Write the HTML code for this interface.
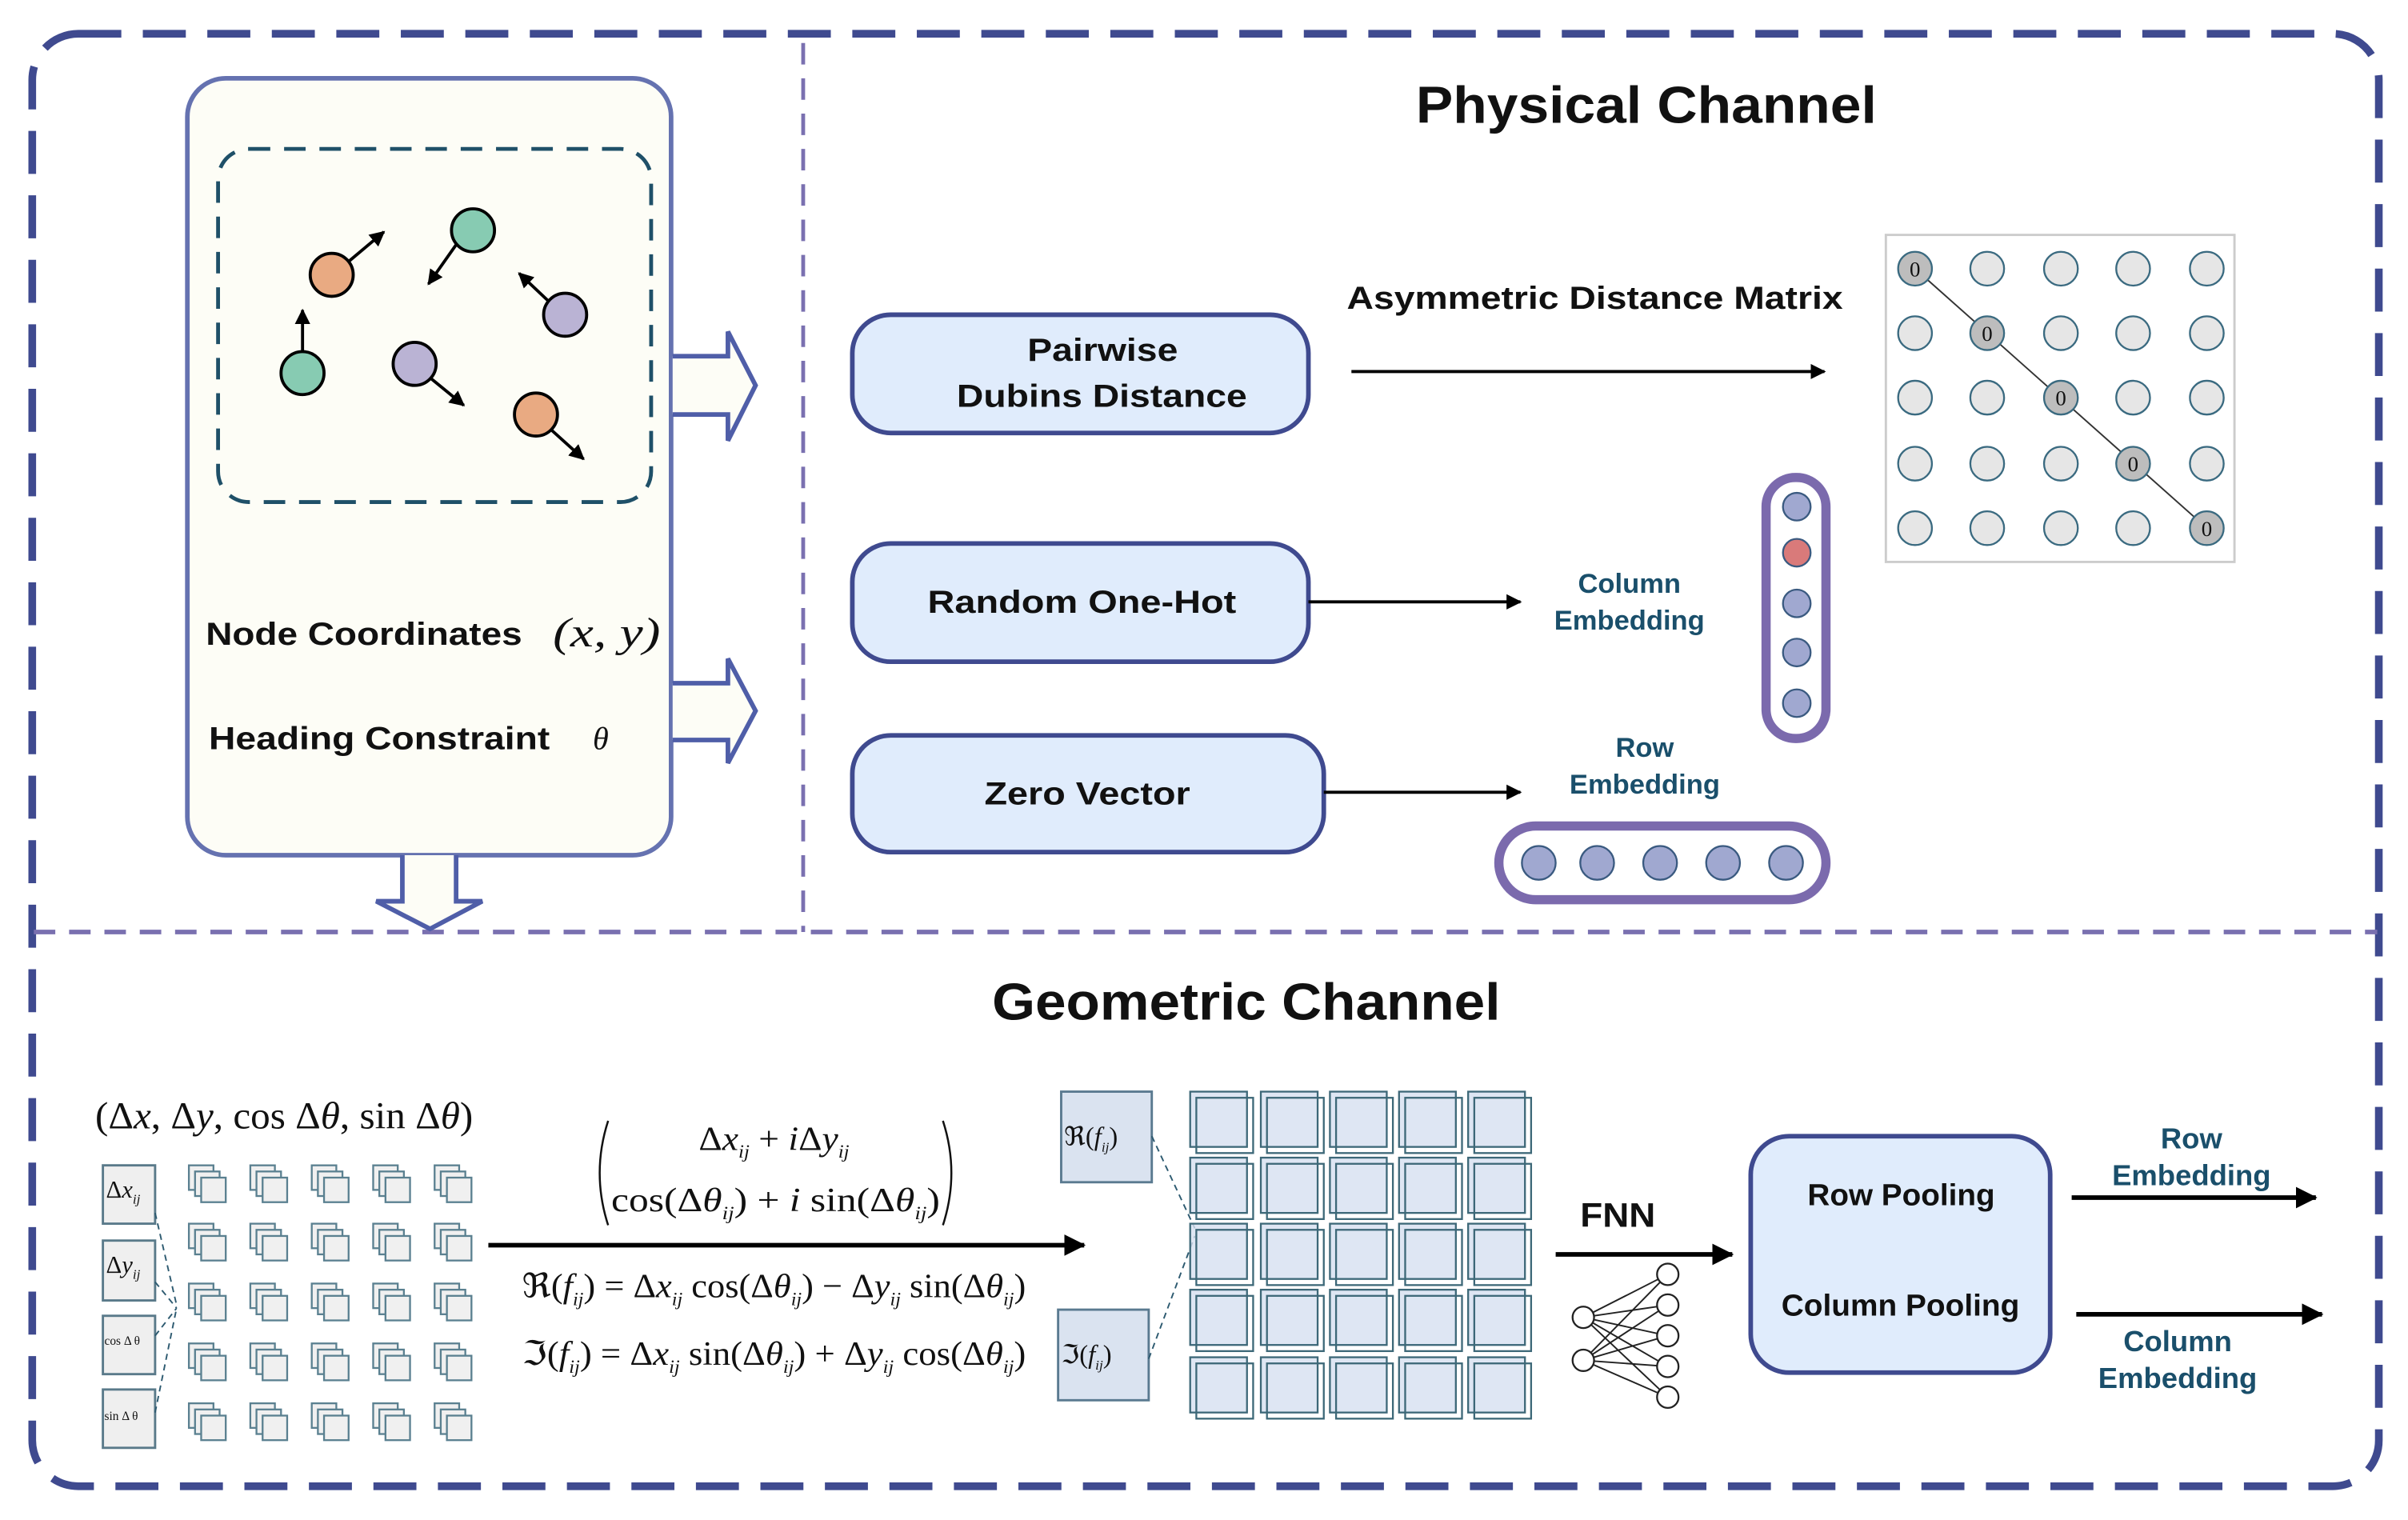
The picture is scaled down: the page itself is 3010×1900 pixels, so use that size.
<!DOCTYPE html>
<html><head><meta charset="utf-8"><style>html,body{margin:0;padding:0;background:#fff}svg{display:block}</style></head><body>
<svg width="3010" height="1900" viewBox="0 0 1568 990" preserveAspectRatio="none" xmlns="http://www.w3.org/2000/svg" font-family="Liberation Sans, sans-serif">
<defs>
<marker id="ah" markerWidth="10" markerHeight="10" refX="9" refY="5" orient="auto" markerUnits="userSpaceOnUse"><path d="M0,0 L10,5 L0,10 z" fill="#000"/></marker>
<marker id="ahs" markerWidth="14" markerHeight="14" refX="13" refY="7" orient="auto" markerUnits="userSpaceOnUse"><path d="M0,0 L14,7 L0,14 z" fill="#000"/></marker>
<g id="stk"><rect x="0" y="0" width="16" height="16"/><rect x="4" y="4" width="16" height="16"/><rect x="8" y="8" width="16" height="16"/></g>
<g id="srow"><use href="#stk" x="0"/><use href="#stk" x="40"/><use href="#stk" x="80"/><use href="#stk" x="120"/><use href="#stk" x="160"/></g>
</defs>
<rect x="0" y="0" width="1568" height="990" fill="#fff"/>
<rect x="21" y="22" width="1528" height="946" rx="30" fill="none" stroke="#3f4a8f" stroke-width="5" stroke-dasharray="28 14"/>
<line x1="523" y1="28" x2="523" y2="607" stroke="#7a70b0" stroke-width="2.5" stroke-dasharray="14 9"/>
<line x1="22" y1="607" x2="1548" y2="607" stroke="#7a70b0" stroke-width="3" stroke-dasharray="14 9"/>

<rect x="122" y="51" width="315" height="506" rx="25" fill="#fdfdf6" stroke="#6572b0" stroke-width="3"/>
<rect x="142" y="97" width="282" height="230" rx="20" fill="none" stroke="#1f5068" stroke-width="2.5" stroke-dasharray="14 9"/>
<g stroke="#000" stroke-width="2">
<line x1="225" y1="172" x2="250" y2="151" marker-end="url(#ah)"/>
<line x1="298" y1="158" x2="279" y2="185" marker-end="url(#ah)"/>
<line x1="357" y1="196" x2="338" y2="178" marker-end="url(#ah)"/>
<line x1="197" y1="230" x2="197" y2="202" marker-end="url(#ah)"/>
<line x1="280" y1="246" x2="302" y2="264" marker-end="url(#ah)"/>
<line x1="359" y1="280" x2="380" y2="299" marker-end="url(#ah)"/>
<circle cx="216" cy="179" r="14" fill="#e9aa82"/>
<circle cx="308" cy="150" r="14" fill="#87cbb2"/>
<circle cx="368" cy="205" r="14" fill="#bab3d4"/>
<circle cx="197" cy="243" r="14" fill="#87cbb2"/>
<circle cx="270" cy="237" r="14" fill="#bab3d4"/>
<circle cx="349" cy="270" r="14" fill="#e9aa82"/>
</g>
<text x="134" y="420" font-size="21" font-weight="bold" fill="#111" textLength="206" lengthAdjust="spacingAndGlyphs">Node Coordinates</text>
<text x="360" y="421" font-size="27" font-family="Liberation Serif, serif" font-style="italic" fill="#111" textLength="70" lengthAdjust="spacingAndGlyphs">(x, y)</text>
<text x="136" y="488" font-size="21" font-weight="bold" fill="#111" textLength="222" lengthAdjust="spacingAndGlyphs">Heading Constraint</text>
<text x="386" y="488" font-size="21" font-family="Liberation Serif, serif" font-style="italic" fill="#111">θ</text>
<path d="M438,232 L474,232 L474,216 L492,251 L474,287 L474,270 L438,270" fill="#fdfdf6" stroke="#4f5ea8" stroke-width="3"/>
<path d="M438,445 L474,445 L474,429 L492,463 L474,497 L474,482 L438,482" fill="#fdfdf6" stroke="#4f5ea8" stroke-width="3"/>
<path d="M262,557 L262,587 L245,587 L280,605 L314,587 L297,587 L297,557" fill="#fdfdf6" stroke="#4f5ea8" stroke-width="3"/>

<text x="922" y="80" font-size="34" font-weight="bold" fill="#111" textLength="300" lengthAdjust="spacingAndGlyphs">Physical Channel</text>
<g fill="#e0ecfc" stroke="#3f4a8f" stroke-width="3">
<rect x="555" y="205" width="297" height="77" rx="25"/>
<rect x="555" y="354" width="297" height="77" rx="25"/>
<rect x="555" y="479" width="307" height="76" rx="25"/>
</g>
<g font-size="21" font-weight="bold" fill="#111" lengthAdjust="spacingAndGlyphs">
<text x="669" y="235" textLength="98" lengthAdjust="spacingAndGlyphs">Pairwise</text>
<text x="623" y="265" textLength="189" lengthAdjust="spacingAndGlyphs">Dubins Distance</text>
<text x="604" y="399" textLength="201" lengthAdjust="spacingAndGlyphs">Random One-Hot</text>
<text x="641" y="524" textLength="134" lengthAdjust="spacingAndGlyphs">Zero Vector</text>
<text x="877" y="201" textLength="323" lengthAdjust="spacingAndGlyphs">Asymmetric Distance Matrix</text>
</g>
<g stroke="#000" stroke-width="2">
<line x1="880" y1="242" x2="1188" y2="242" marker-end="url(#ah)"/>
<line x1="852" y1="392" x2="990" y2="392" marker-end="url(#ah)"/>
<line x1="862" y1="516" x2="990" y2="516" marker-end="url(#ah)"/>
</g>
<g font-size="18" font-weight="bold" text-anchor="middle" fill="#1a4f6b">
<text x="1061" y="386">Column</text><text x="1061" y="410">Embedding</text>
<text x="1071" y="493">Row</text><text x="1071" y="517">Embedding</text>
</g>
<rect x="1150" y="311" width="39" height="170" rx="19" fill="#fff" stroke="#7b6aad" stroke-width="6"/>
<g stroke="#3a5a80" stroke-width="1.2" fill="#a0a8d0">
<circle cx="1170" cy="330" r="9"/><circle cx="1170" cy="360" r="9" fill="#d97a7a"/><circle cx="1170" cy="393" r="9"/><circle cx="1170" cy="425" r="9"/><circle cx="1170" cy="458" r="9"/>
</g>
<rect x="976" y="538" width="213" height="48" rx="24" fill="#fff" stroke="#7b6aad" stroke-width="6"/>
<g stroke="#3a5a80" stroke-width="1.2" fill="#a0a8d0">
<circle cx="1002" cy="562" r="11"/><circle cx="1040" cy="562" r="11"/><circle cx="1081" cy="562" r="11"/><circle cx="1122" cy="562" r="11"/><circle cx="1163" cy="562" r="11"/>
</g>
<rect x="1228" y="153" width="227" height="213" fill="#fff" stroke="#ccc" stroke-width="1.5"/>
<line x1="1247" y1="175" x2="1437" y2="344" stroke="#333" stroke-width="1"/>
<g stroke="#3a6a80" stroke-width="1.2" fill="#e6e6e6">
<circle cx="1247" cy="175" r="11" fill="#bdbdbd"/><circle cx="1294" cy="175" r="11"/><circle cx="1342" cy="175" r="11"/><circle cx="1389" cy="175" r="11"/><circle cx="1437" cy="175" r="11"/>
<circle cx="1247" cy="217" r="11"/><circle cx="1294" cy="217" r="11" fill="#bdbdbd"/><circle cx="1342" cy="217" r="11"/><circle cx="1389" cy="217" r="11"/><circle cx="1437" cy="217" r="11"/>
<circle cx="1247" cy="259" r="11"/><circle cx="1294" cy="259" r="11"/><circle cx="1342" cy="259" r="11" fill="#bdbdbd"/><circle cx="1389" cy="259" r="11"/><circle cx="1437" cy="259" r="11"/>
<circle cx="1247" cy="302" r="11"/><circle cx="1294" cy="302" r="11"/><circle cx="1342" cy="302" r="11"/><circle cx="1389" cy="302" r="11" fill="#bdbdbd"/><circle cx="1437" cy="302" r="11"/>
<circle cx="1247" cy="344" r="11"/><circle cx="1294" cy="344" r="11"/><circle cx="1342" cy="344" r="11"/><circle cx="1389" cy="344" r="11"/><circle cx="1437" cy="344" r="11" fill="#bdbdbd"/>
</g>
<g font-size="14" font-family="Liberation Serif, serif" text-anchor="middle" fill="#111">
<text x="1247" y="180">0</text><text x="1294" y="222">0</text><text x="1342" y="264">0</text><text x="1389" y="307">0</text><text x="1437" y="349">0</text>
</g>

<text x="646" y="664" font-size="34" font-weight="bold" fill="#111" textLength="331" lengthAdjust="spacingAndGlyphs">Geometric Channel</text>
<text x="62" y="735" font-size="25" font-family="Liberation Serif, serif" fill="#111" textLength="246" lengthAdjust="spacingAndGlyphs">(Δ<tspan font-style="italic">x</tspan>, Δ<tspan font-style="italic">y</tspan>, cos Δ<tspan font-style="italic">θ</tspan>, sin Δ<tspan font-style="italic">θ</tspan>)</text>
<g fill="#efefef" stroke="#5a7a8a" stroke-width="1.5">
<rect x="67" y="759" width="34" height="38"/><rect x="67" y="808" width="34" height="39"/><rect x="67" y="857" width="34" height="38"/><rect x="67" y="905" width="34" height="38"/>
</g>
<g font-family="Liberation Serif, serif" fill="#111">
<text x="69" y="780" font-size="16">Δ<tspan font-style="italic">x</tspan><tspan font-size="9" font-style="italic" dy="4">ij</tspan></text>
<text x="69" y="829" font-size="16">Δ<tspan font-style="italic">y</tspan><tspan font-size="9" font-style="italic" dy="4">ij</tspan></text>
<text x="68" y="876" font-size="8">cos Δ θ</text>
<text x="68" y="925" font-size="8">sin Δ θ</text>
</g>
<g stroke="#2d5a70" stroke-width="1" stroke-dasharray="4 3" fill="none">
<path d="M101,790 L115,850"/><path d="M101,835 L115,852"/><path d="M101,870 L115,852"/><path d="M101,920 L115,852"/>
</g>
<g fill="#f0f0f0" stroke="#5a8090" stroke-width="1.2">
<use href="#srow" x="123" y="759"/><use href="#srow" x="123" y="797"/><use href="#srow" x="123" y="836"/><use href="#srow" x="123" y="875"/><use href="#srow" x="123" y="914"/>
</g>

<g font-family="Liberation Serif, serif" fill="#111">
<path d="M396,730 Q385,764 396,798" fill="none" stroke="#111" stroke-width="1.3"/>
<path d="M614,730 Q625,764 614,798" fill="none" stroke="#111" stroke-width="1.3"/>
<text x="455" y="749" font-size="22" textLength="98" lengthAdjust="spacingAndGlyphs">Δ<tspan font-style="italic">x</tspan><tspan font-size="12" font-style="italic" dy="5">ij</tspan><tspan dy="-5"> + </tspan><tspan font-style="italic">i</tspan>Δ<tspan font-style="italic">y</tspan><tspan font-size="12" font-style="italic" dy="5">ij</tspan></text>
<text x="398" y="789" font-size="22" textLength="214" lengthAdjust="spacingAndGlyphs">cos(Δ<tspan font-style="italic">θ</tspan><tspan font-size="12" font-style="italic" dy="5">ij</tspan><tspan dy="-5">) + </tspan><tspan font-style="italic">i</tspan> sin(Δ<tspan font-style="italic">θ</tspan><tspan font-size="12" font-style="italic" dy="5">ij</tspan><tspan dy="-5">)</tspan></text>
<text x="340" y="845" font-size="22" textLength="328" lengthAdjust="spacingAndGlyphs">ℜ(<tspan font-style="italic">f</tspan><tspan font-size="12" font-style="italic" dy="5">ij</tspan><tspan dy="-5">) = Δ</tspan><tspan font-style="italic">x</tspan><tspan font-size="12" font-style="italic" dy="5">ij</tspan><tspan dy="-5"> cos(Δ</tspan><tspan font-style="italic">θ</tspan><tspan font-size="12" font-style="italic" dy="5">ij</tspan><tspan dy="-5">) − Δ</tspan><tspan font-style="italic">y</tspan><tspan font-size="12" font-style="italic" dy="5">ij</tspan><tspan dy="-5"> sin(Δ</tspan><tspan font-style="italic">θ</tspan><tspan font-size="12" font-style="italic" dy="5">ij</tspan><tspan dy="-5">)</tspan></text>
<text x="340" y="889" font-size="22" textLength="328" lengthAdjust="spacingAndGlyphs">ℑ(<tspan font-style="italic">f</tspan><tspan font-size="12" font-style="italic" dy="5">ij</tspan><tspan dy="-5">) = Δ</tspan><tspan font-style="italic">x</tspan><tspan font-size="12" font-style="italic" dy="5">ij</tspan><tspan dy="-5"> sin(Δ</tspan><tspan font-style="italic">θ</tspan><tspan font-size="12" font-style="italic" dy="5">ij</tspan><tspan dy="-5">) + Δ</tspan><tspan font-style="italic">y</tspan><tspan font-size="12" font-style="italic" dy="5">ij</tspan><tspan dy="-5"> cos(Δ</tspan><tspan font-style="italic">θ</tspan><tspan font-size="12" font-style="italic" dy="5">ij</tspan><tspan dy="-5">)</tspan></text>
</g>
<line x1="318" y1="811" x2="706" y2="811" stroke="#000" stroke-width="3" marker-end="url(#ahs)"/>

<rect x="691" y="711" width="59" height="59" fill="#dae3f0" stroke="#5a7a90" stroke-width="1.5"/>
<rect x="689" y="853" width="59" height="59" fill="#dae3f0" stroke="#5a7a90" stroke-width="1.5"/>
<g font-family="Liberation Serif, serif" fill="#111" font-size="17">
<text x="693" y="746">ℜ(<tspan font-style="italic">f</tspan><tspan font-size="9" dy="4" font-style="italic">ij</tspan><tspan dy="-4">)</tspan></text>
<text x="691" y="888">ℑ(<tspan font-style="italic">f</tspan><tspan font-size="9" dy="4" font-style="italic">ij</tspan><tspan dy="-4">)</tspan></text>
</g>
<g stroke="#2d5a70" stroke-width="1" stroke-dasharray="4 3"><line x1="750" y1="740" x2="778" y2="800"/><line x1="748" y1="885" x2="778" y2="805"/></g>
<g fill="#d6e0f0" stroke="#3d6878" stroke-width="1.2">
<g id="r1">
<rect x="775" y="711" width="37" height="36" fill-opacity=".8"/><rect x="779" y="715" width="37" height="36" fill="none"/>
<rect x="821" y="711" width="37" height="36" fill-opacity=".8"/><rect x="825" y="715" width="37" height="36" fill="none"/>
<rect x="866" y="711" width="37" height="36" fill-opacity=".8"/><rect x="870" y="715" width="37" height="36" fill="none"/>
<rect x="911" y="711" width="37" height="36" fill-opacity=".8"/><rect x="915" y="715" width="37" height="36" fill="none"/>
<rect x="956" y="711" width="37" height="36" fill-opacity=".8"/><rect x="960" y="715" width="37" height="36" fill="none"/>
</g>
<use href="#r1" y="43"/><use href="#r1" y="86"/><use href="#r1" y="129"/><use href="#r1" y="173"/>
</g>
<text x="1029" y="799" font-size="22" font-weight="bold" fill="#111" textLength="49" lengthAdjust="spacingAndGlyphs">FNN</text>
<line x1="1013" y1="817" x2="1128" y2="817" stroke="#000" stroke-width="3" marker-end="url(#ahs)"/>
<g stroke="#222" stroke-width="1">
<line x1="1031" y1="858" x2="1086" y2="830"/><line x1="1031" y1="858" x2="1086" y2="850"/><line x1="1031" y1="858" x2="1086" y2="870"/><line x1="1031" y1="858" x2="1086" y2="890"/><line x1="1031" y1="858" x2="1086" y2="910"/>
<line x1="1031" y1="886" x2="1086" y2="830"/><line x1="1031" y1="886" x2="1086" y2="850"/><line x1="1031" y1="886" x2="1086" y2="870"/><line x1="1031" y1="886" x2="1086" y2="890"/><line x1="1031" y1="886" x2="1086" y2="910"/>
</g>
<g fill="#fff" stroke="#222" stroke-width="1.2">
<circle cx="1031" cy="858" r="7"/><circle cx="1031" cy="886" r="7"/>
<circle cx="1086" cy="830" r="7"/><circle cx="1086" cy="850" r="7"/><circle cx="1086" cy="870" r="7"/><circle cx="1086" cy="890" r="7"/><circle cx="1086" cy="910" r="7"/>
</g>
<rect x="1140" y="740" width="195" height="154" rx="25" fill="#e0ecfc" stroke="#3f4a8f" stroke-width="3"/>
<g font-size="20" font-weight="bold" fill="#111">
<text x="1177" y="785" textLength="122" lengthAdjust="spacingAndGlyphs">Row Pooling</text><text x="1160" y="857" textLength="155" lengthAdjust="spacingAndGlyphs">Column Pooling</text>
</g>
<line x1="1349" y1="780" x2="1508" y2="780" stroke="#000" stroke-width="3" marker-end="url(#ahs)"/>
<line x1="1352" y1="856" x2="1512" y2="856" stroke="#000" stroke-width="3" marker-end="url(#ahs)"/>
<g font-size="19" font-weight="bold" text-anchor="middle" fill="#1a4f6b">
<text x="1427" y="748">Row</text><text x="1427" y="772">Embedding</text>
<text x="1418" y="880">Column</text><text x="1418" y="904">Embedding</text>
</g>
</svg>
</body></html>
